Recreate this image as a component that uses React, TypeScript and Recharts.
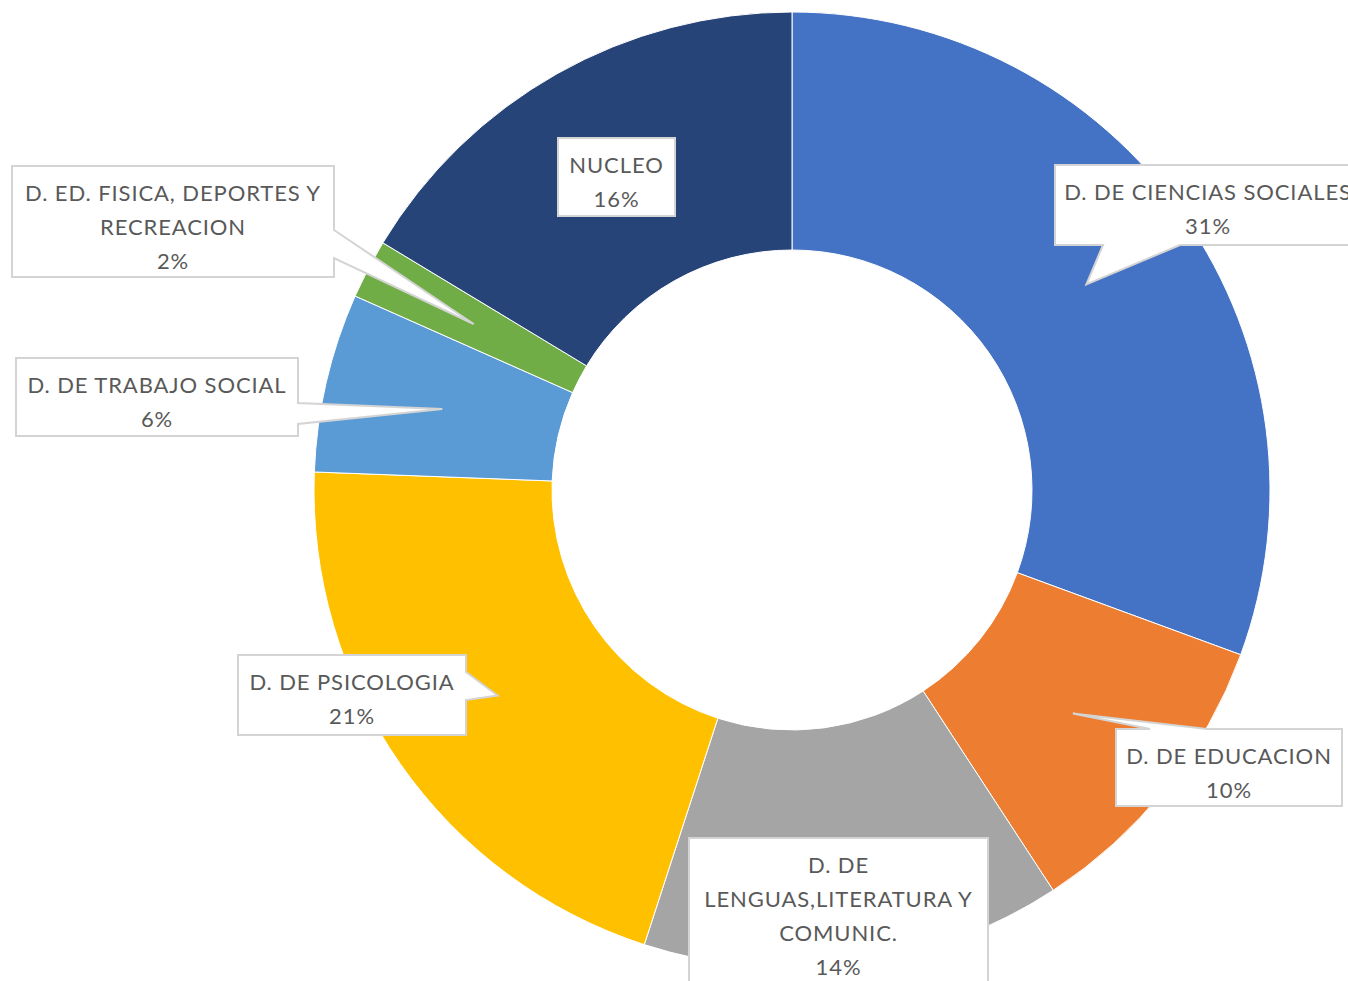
import { PieChart, Pie, Cell } from "recharts";

const names = [
  "D. DE CIENCIAS SOCIALES",
  "D. DE EDUCACION",
  "D. DE\nLENGUAS,LITERATURA Y\nCOMUNIC.",
  "D. DE PSICOLOGIA",
  "D. DE TRABAJO SOCIAL",
  "D. ED. FISICA, DEPORTES Y\nRECREACION",
  "NUCLEO",
];
const shares = [30.6, 10.2, 14.2, 20.6, 6.05, 2.0, 16.35];
const colors = ["#4472C4", "#ED7D31", "#A5A5A5", "#FFC000", "#5B9BD5", "#70AD47", "#264478"];

const data = names.map((name, i) => ({ name, value: shares[i] }));

// callout boxes as placed in the original (x, y, w, h, pointer side, pointer base)
const callouts = [
  { x: 1055, y: 165, w: 306, h: 80, side: "bottom", b1: 1103, b2: 1180 },
  { x: 1116, y: 729, w: 226, h: 77, side: "top", b1: 1150, b2: 1207 },
  { x: 689, y: 838, w: 299, h: 160, side: "none", b1: 0, b2: 0 },
  { x: 238, y: 655, w: 228, h: 80, side: "right", b1: 672, b2: 700 },
  { x: 16, y: 358, w: 282, h: 78, side: "right", b1: 403, b2: 424 },
  { x: 12, y: 166, w: 322, h: 111, side: "right", b1: 230, b2: 258 },
  { x: 558, y: 138, w: 117, h: 78, side: "none", b1: 0, b2: 0 },
];

const RADIAN = Math.PI / 180;

function Callout(props: any) {
  const { cx, cy, midAngle, innerRadius, outerRadius, index, percent, name } = props;
  const c = callouts[index];
  const r = (innerRadius + outerRadius) / 2;
  const tx = cx + r * Math.cos(-midAngle * RADIAN);
  const ty = cy + r * Math.sin(-midAngle * RADIAN);
  const { x, y, w, h } = c;
  let d = "";
  if (c.side === "right") {
    d = `M${x},${y}H${x + w}V${c.b1}L${tx},${ty}L${x + w},${c.b2}V${y + h}H${x}Z`;
  } else if (c.side === "bottom") {
    d = `M${x},${y}H${x + w}V${y + h}H${c.b2}L${tx},${ty}L${c.b1},${y + h}H${x}Z`;
  } else if (c.side === "top") {
    d = `M${x},${y}H${c.b1}L${tx},${ty}L${c.b2},${y}H${x + w}V${y + h}H${x}Z`;
  } else {
    d = `M${x},${y}H${x + w}V${y + h}H${x}Z`;
  }
  const lines = [...String(name).split("\n"), `${Math.round(percent * 100)}%`];
  return (
    <g>
      <path d={d} fill="#fff" stroke="#D4D4D4" strokeWidth={2} />
      {lines.map((ln, i) => (
        <text
          key={i}
          x={x + w / 2}
          y={y + 26 + i * 34}
          textAnchor="middle"
          dominantBaseline="central"
          fill="#595959"
          fontSize={22}
          letterSpacing={0.9}
          fontFamily="Lato, 'Open Sans', sans-serif"
        >
          {ln}
        </text>
      ))}
    </g>
  );
}

export default function App() {
  return (
    <div style={{ position: "absolute", left: 0, top: 0, background: "#fff" }}>
      <PieChart width={1348} height={981} margin={{ top: 0, right: 0, bottom: 0, left: 0 }}>
        <Pie
          data={data}
          dataKey="value"
          nameKey="name"
          cx={792}
          cy={490}
          innerRadius={240}
          outerRadius={478}
          startAngle={90}
          endAngle={-270}
          stroke="#fff"
          strokeWidth={1}
          label={Callout}
          labelLine={false}
          isAnimationActive={false}
        >
          {data.map((_, i) => (
            <Cell key={i} fill={colors[i]} />
          ))}
        </Pie>
      </PieChart>
    </div>
  );
}
